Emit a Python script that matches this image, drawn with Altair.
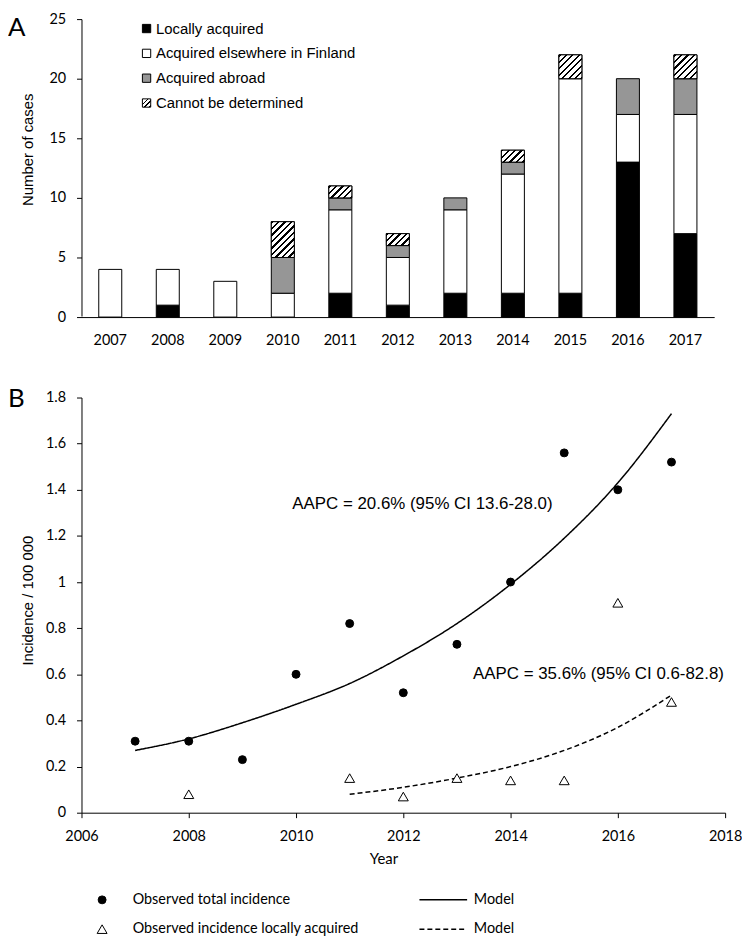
import altair as alt
import pandas as pd

# ---------------- data: panel A ----------------
years = ["2007", "2008", "2009", "2010", "2011", "2012", "2013", "2014", "2015", "2016", "2017"]
locally = [0, 1, 0, 0, 2, 1, 2, 2, 2, 13, 7]
elsewhere = [4, 3, 3, 2, 7, 4, 7, 10, 18, 4, 10]
abroad = [0, 0, 0, 3, 1, 1, 1, 1, 0, 3, 3]
undetermined = [0, 0, 0, 3, 1, 1, 0, 1, 2, 0, 2]
categories = ["Locally acquired", "Acquired elsewhere in Finland", "Acquired abroad", "Cannot be determined"]
cat_colors = ["#000000", "#ffffff", "#969696", "url(#hatchL)"]
y_ticks_a = [0, 5, 10, 15, 20, 25]

# ---------------- data: panel B ----------------
inc_years = [2007, 2008, 2009, 2010, 2011, 2012, 2013, 2014, 2015, 2016, 2017]
obs_total = [0.31, 0.31, 0.23, 0.60, 0.82, 0.52, 0.73, 1.00, 1.56, 1.40, 1.52]
local_years = [2008, 2011, 2012, 2013, 2014, 2015, 2016, 2017]
obs_local = [0.08, 0.15, 0.07, 0.15, 0.14, 0.14, 0.91, 0.48]
model_total = [0.27, 0.32, 0.39, 0.47, 0.56, 0.68, 0.82, 0.99, 1.19, 1.43, 1.73]
model_local_years = [2011, 2012, 2013, 2014, 2015, 2016, 2017]
model_local = [0.08, 0.11, 0.15, 0.20, 0.27, 0.37, 0.51]
pt_series = ["Observed total incidence", "Observed incidence locally acquired"]
model_names = ["Model total", "Model locally acquired"]
aapc_text = ["AAPC = 20.6% (95% CI 13.6-28.0)", "AAPC = 35.6% (95% CI 0.6-82.8)"]
aapc_x = [2009.93, 2013.30]
aapc_y = [1.337, 0.603]
x_ticks_b = [2006, 2008, 2010, 2012, 2014, 2016, 2018]
y_ticks_b = [0, 0.2, 0.4, 0.6, 0.8, 1.0, 1.2, 1.4, 1.6, 1.8]

TICK_FONT = "Lato"
SANS = "Liberation Sans"

W_A, H_A = 637, 300
W_B, H_B = 648, 418
UNIT_PX = H_A / 25.0
BAR_W = W_A / 11 * 0.4


def hatch(w, h, period=4.6, ink=0.36, gid=None):
    r = h / w
    a = (1 + r) / (1 + r * r)
    b = a * r
    n = (w + h) / (period * 2 ** 0.5)
    stops = []
    k = 0
    while k < n:
        s = k / n
        e = min((k + ink) / n, 1.0)
        f = min((k + 1) / n, 1.0)
        stops += [
            {"offset": round(s, 4), "color": "#000000"},
            {"offset": round(e, 4), "color": "#000000"},
            {"offset": round(e, 4), "color": "#ffffff"},
            {"offset": round(f, 4), "color": "#ffffff"},
        ]
        k += 1
    g = {"gradient": "linear", "x1": 0, "y1": 0, "x2": round(a, 4), "y2": round(b, 4), "stops": stops}
    if gid:
        g["id"] = gid
    return g


# stacked table
rows = []
series_list = [locally, elsewhere, abroad, undetermined]
for i, yr in enumerate(years):
    base = 0
    for cat, ser in zip(categories, series_list):
        v = ser[i]
        if v > 0:
            rows.append({"year": yr, "category": cat, "n": v, "y0": base, "y1": base + v})
        base += v
bars = pd.DataFrame(rows)

pts = pd.DataFrame(
    [{"year": y, "value": v, "series": pt_series[0]} for y, v in zip(inc_years, obs_total)]
    + [{"year": y, "value": v, "series": pt_series[1]} for y, v in zip(local_years, obs_local)]
)
models = pd.DataFrame(
    [{"year": y, "value": v, "model": model_names[0]} for y, v in zip(inc_years, model_total)]
    + [{"year": y, "value": v, "model": model_names[1]} for y, v in zip(model_local_years, model_local)]
)
ann = pd.DataFrame({"year": aapc_x, "value": aapc_y, "label": aapc_text})

# ---------------- panel A ----------------
xa = alt.X("year:O", sort=years,
           scale=alt.Scale(domain=years, paddingInner=0.6, paddingOuter=0.3),
           axis=alt.Axis(title=None, labelAngle=0, ticks=False, tickSize=0, labelPadding=17,
                         labelFont=TICK_FONT, labelFontSize=14.5, labelColor="black",
                         domainColor="black", domainWidth=1, grid=False))
ya = alt.Y("y0:Q", scale=alt.Scale(domain=[0, 25], nice=False),
           axis=alt.Axis(title="Number of cases", values=y_ticks_a, tickSize=5, tickColor="black",
                         domainColor="black", labelFont=TICK_FONT, labelFontSize=14.5,
                         labelColor="black", labelPadding=11, grid=False, labelFlush=False,
                         titleFont=SANS, titleFontSize=15, titleFontWeight="normal",
                         titleColor="black", titleX=-46, titleY=131))
legend_a = alt.Legend(title=None, orient="none", legendX=58, legendY=2, symbolType="square",
                      symbolSize=70, symbolStrokeColor="black", symbolStrokeWidth=1,
                      labelFont=SANS, labelFontSize=15, labelColor="black", labelOffset=2,
                      labelLimit=0, rowPadding=9, padding=0, symbolOpacity=1)

base_bars = alt.Chart(bars).mark_bar(stroke="black", strokeWidth=1).encode(
    x=xa, y=ya, y2="y1:Q",
    fill=alt.Fill("category:N", scale=alt.Scale(domain=categories, range=cat_colors), legend=legend_a),
)
layers_a = [base_bars]
for h in sorted({v for v in undetermined if v > 0}):
    d = bars[(bars["category"] == categories[3]) & (bars["n"] == h)]
    layers_a.append(
        alt.Chart(d).mark_bar(fill=hatch(BAR_W, h * UNIT_PX), stroke="black", strokeWidth=1)
        .encode(x=xa, y=ya, y2="y1:Q")
    )
# tiny mark that carries the legend hatch definition (id hatchL), hidden at the axis corner
hatch_def = alt.Chart(pd.DataFrame({"t": ["def"]})).mark_point(
    shape="square", size=1, filled=True, fill=hatch(8.4, 8.4, period=3.4, gid="hatchL"),
    strokeWidth=0, opacity=1
).encode(x=alt.value(0.5), y=alt.value(H_A - 0.5))
layers_a.append(hatch_def)
letter_a = alt.Chart(pd.DataFrame({"t": ["A"]})).mark_text(
    align="left", baseline="middle", font=TICK_FONT, fontSize=26, color="black"
).encode(text="t:N", x=alt.value(-74), y=alt.value(9))
layers_a.append(letter_a)
top = alt.layer(*layers_a).properties(width=W_A, height=H_A)

# ---------------- panel B ----------------
xb = alt.X("year:Q", scale=alt.Scale(domain=[2006, 2018], nice=False, zero=False),
           axis=alt.Axis(title="Year", values=x_ticks_b, format="d", tickSize=5, tickColor="black",
                         domainColor="black", labelFont=TICK_FONT, labelFontSize=14.5,
                         labelColor="black", labelPadding=12, grid=False, labelFlush=False,
                         titleFont=TICK_FONT, titleFontSize=15, titleFontWeight="normal",
                         titleColor="black", titleX=304, titleY=46.5, titleBaseline="middle"))
yb = alt.Y("value:Q", scale=alt.Scale(domain=[0, 1.8], nice=False),
           axis=alt.Axis(title="Incidence / 100 000", values=y_ticks_b, format=".1~f", tickSize=5,
                         tickColor="black", domainColor="black", labelFont=TICK_FONT,
                         labelFontSize=14.5, labelColor="black", labelPadding=11, grid=False,
                         labelFlush=False, titleFont=SANS, titleFontSize=15,
                         titleFontWeight="normal", titleColor="black", titleX=-46, titleY=204))
pt_legend = alt.Legend(title=None, orient="none", legendX=13.5, legendY=498.5,
                       symbolStrokeColor="black", symbolStrokeWidth=1, labelFont=TICK_FONT,
                       labelFontSize=14.5, labelColor="black", labelOffset=23.5, labelLimit=0,
                       rowPadding=14.5, padding=0, symbolOpacity=1)
points = alt.Chart(pts).mark_point(filled=True, strokeWidth=1, opacity=1).encode(
    x=xb, y=yb,
    shape=alt.Shape("series:N", scale=alt.Scale(domain=pt_series, range=["circle", "triangle-up"]), legend=pt_legend),
    fill=alt.Fill("series:N", scale=alt.Scale(domain=pt_series, range=["#000000", "#ffffff"]), legend=pt_legend),
    stroke=alt.Stroke("series:N", scale=alt.Scale(domain=pt_series, range=["#000000", "#000000"]), legend=pt_legend),
    size=alt.Size("series:N", scale=alt.Scale(domain=pt_series, range=[64, 100]), legend=pt_legend),
)
line_legend = alt.Legend(title=None, orient="none", legendX=357, legendY=498.5,
                         symbolType="M-6,0H6", symbolSize=64, symbolStrokeColor="black",
                         symbolStrokeWidth=1.5, labelExpr="'Model'", labelFont=TICK_FONT,
                         labelFontSize=14.5, labelColor="black", labelOffset=23.5, labelLimit=0,
                         rowPadding=14.5, padding=0)
lines = alt.Chart(models).mark_line(color="black", strokeWidth=1.5, interpolate="monotone").encode(
    x=xb, y=yb,
    strokeDash=alt.StrokeDash("model:N", scale=alt.Scale(domain=model_names, range=[[1, 0], [5, 3]]),
                              legend=line_legend),
)
texts = alt.Chart(ann).mark_text(align="left", baseline="middle", font=SANS, fontSize=17,
                                 color="black").encode(x=xb, y=yb, text="label:N")
letter_b = alt.Chart(pd.DataFrame({"t": ["B"]})).mark_text(
    align="left", baseline="middle", font=TICK_FONT, fontSize=26, color="black"
).encode(text="t:N", x=alt.value(-74), y=alt.value(2))
bottom = alt.layer(lines, points, texts, letter_b).properties(width=W_B, height=H_B)

chart = alt.vconcat(top, bottom, spacing=81, bounds="flush").resolve_scale(
    fill="independent", shape="independent", size="independent", strokeDash="independent",
    stroke="independent", x="independent", y="independent",
).resolve_legend(fill="independent", shape="independent", size="independent",
                 strokeDash="independent", stroke="independent").properties(
    padding={"left": 0, "top": 0, "right": 0, "bottom": 0}, background="white"
).configure_view(stroke=None)

chart.save("out.html", embed_options={"renderer": "svg", "actions": False})
